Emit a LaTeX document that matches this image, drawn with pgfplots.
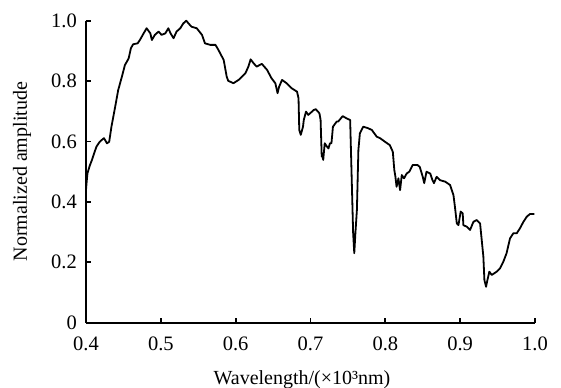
\documentclass[border=0pt]{standalone}
\usepackage{pgfplots}
\pgfplotsset{compat=1.18}
\usepackage{fontspec}
\setmainfont{Liberation Serif}
\begin{document}
\fontsize{20bp}{22bp}\selectfont
\begin{tikzpicture}
\begin{axis}[
  at={(0,0)}, anchor=south west,
  scale only axis, width=449bp, height=302bp,
  xmin=0.4, xmax=1.0, ymin=0, ymax=1.0,
  axis x line*=bottom, axis y line*=left,
  axis line style={line width=1.9bp},
  tick align=inside, major tick length=5bp,
  tick style={line width=1.9bp, black},
  xtick={0.4,0.5,0.6,0.7,0.8,0.9,1.0},
  xticklabels={0.4,0.5,0.6,0.7,0.8,0.9,1.0},
  ytick={0,0.2,0.4,0.6,0.8,1.0},
  yticklabels={0,0.2,0.4,0.6,0.8,1.0},
  xticklabel style={anchor=base, inner sep=0pt, yshift=-27.5bp, font=\fontsize{20.5bp}{22bp}\selectfont},
  yticklabel style={anchor=east, inner sep=0pt, xshift=-9bp, font=\fontsize{20.5bp}{22bp}\selectfont},
  xlabel={Wavelength/(×10³nm)},
  ylabel={Normalized amplitude},
  xlabel style={at={(axis description cs:0.481,-0.2048)}, anchor=base, inner sep=0pt, font=\fontsize{20bp}{22bp}\selectfont},
  ylabel style={at={(axis description cs:-0.1425,0.5)}, anchor=center, rotate=0, inner sep=0pt, font=\fontsize{20bp}{22bp}\selectfont},
  clip=false,
]
\addplot[black, line width=1.8bp, line join=round] coordinates {
(0.400,0.44) (0.401,0.47) (0.402,0.495) (0.405,0.52) (0.408,0.539) (0.411,0.562)
(0.414,0.583) (0.418,0.598) (0.421,0.605) (0.424,0.611) (0.428,0.594) (0.431,0.599)
(0.434,0.649) (0.439,0.715) (0.443,0.770) (0.448,0.815) (0.452,0.853) (0.457,0.875)
(0.460,0.909) (0.463,0.922) (0.469,0.925) (0.472,0.936) (0.477,0.958) (0.481,0.975)
(0.486,0.958) (0.488,0.936) (0.492,0.953) (0.497,0.964) (0.501,0.953) (0.506,0.958)
(0.510,0.975) (0.513,0.958) (0.517,0.942) (0.521,0.964) (0.526,0.975) (0.530,0.991)
(0.534,1.000) (0.537,0.991) (0.541,0.980) (0.548,0.975) (0.555,0.953) (0.559,0.925)
(0.566,0.920) (0.573,0.920) (0.577,0.903) (0.584,0.870) (0.588,0.815) (0.590,0.801)
(0.597,0.793) (0.604,0.804) (0.613,0.826) (0.617,0.848) (0.620,0.872) (0.624,0.859)
(0.628,0.848) (0.635,0.857) (0.642,0.837) (0.648,0.809) (0.653,0.793) (0.656,0.760)
(0.658,0.781) (0.662,0.804) (0.668,0.793) (0.675,0.776) (0.682,0.765) (0.684,0.743)
(0.685,0.638) (0.687,0.622) (0.690,0.649) (0.691,0.671) (0.694,0.699) (0.697,0.688)
(0.702,0.699) (0.704,0.704) (0.707,0.707) (0.710,0.699) (0.712,0.693) (0.7135,0.671)
(0.715,0.55) (0.716,0.55) (0.717,0.539) (0.719,0.594) (0.722,0.583) (0.724,0.577)
(0.726,0.594) (0.728,0.594) (0.730,0.649) (0.735,0.666) (0.737,0.666) (0.743,0.684)
(0.748,0.677) (0.753,0.671) (0.755,0.483) (0.757,0.296) (0.7585,0.23) (0.760,0.296)
(0.762,0.373) (0.764,0.572) (0.766,0.627) (0.7705,0.649) (0.777,0.644) (0.782,0.638)
(0.7885,0.616) (0.793,0.611) (0.7996,0.599) (0.806,0.588) (0.810,0.566) (0.812,0.506)
(0.8135,0.483) (0.815,0.450) (0.8175,0.478) (0.8197,0.439) (0.822,0.489) (0.825,0.478)
(0.8285,0.494) (0.832,0.500) (0.8365,0.522) (0.843,0.522) (0.846,0.516) (0.850,0.483)
(0.852,0.462) (0.855,0.500) (0.860,0.494) (0.863,0.472) (0.865,0.462) (0.8685,0.483)
(0.873,0.472) (0.880,0.467) (0.8865,0.456) (0.891,0.423) (0.893,0.384) (0.8955,0.329)
(0.8977,0.323) (0.9007,0.368) (0.9034,0.362) (0.9043,0.323) (0.9088,0.318) (0.9132,0.307)
(0.9177,0.334) (0.922,0.340) (0.9266,0.329) (0.9288,0.274) (0.931,0.219) (0.9324,0.141)
(0.9346,0.119) (0.9364,0.141) (0.939,0.169) (0.9422,0.158) (0.9488,0.169) (0.9533,0.180)
(0.9577,0.202) (0.962,0.230) (0.9666,0.279) (0.971,0.296) (0.9756,0.296) (0.980,0.313)
(0.9845,0.334) (0.989,0.351) (0.9933,0.360) (0.999,0.360)
};
\end{axis}
\pgfresetboundingbox
\path[use as bounding box] (-86bp,-65.3bp) rectangle (475bp,322.7bp);
\end{tikzpicture}
\end{document}
